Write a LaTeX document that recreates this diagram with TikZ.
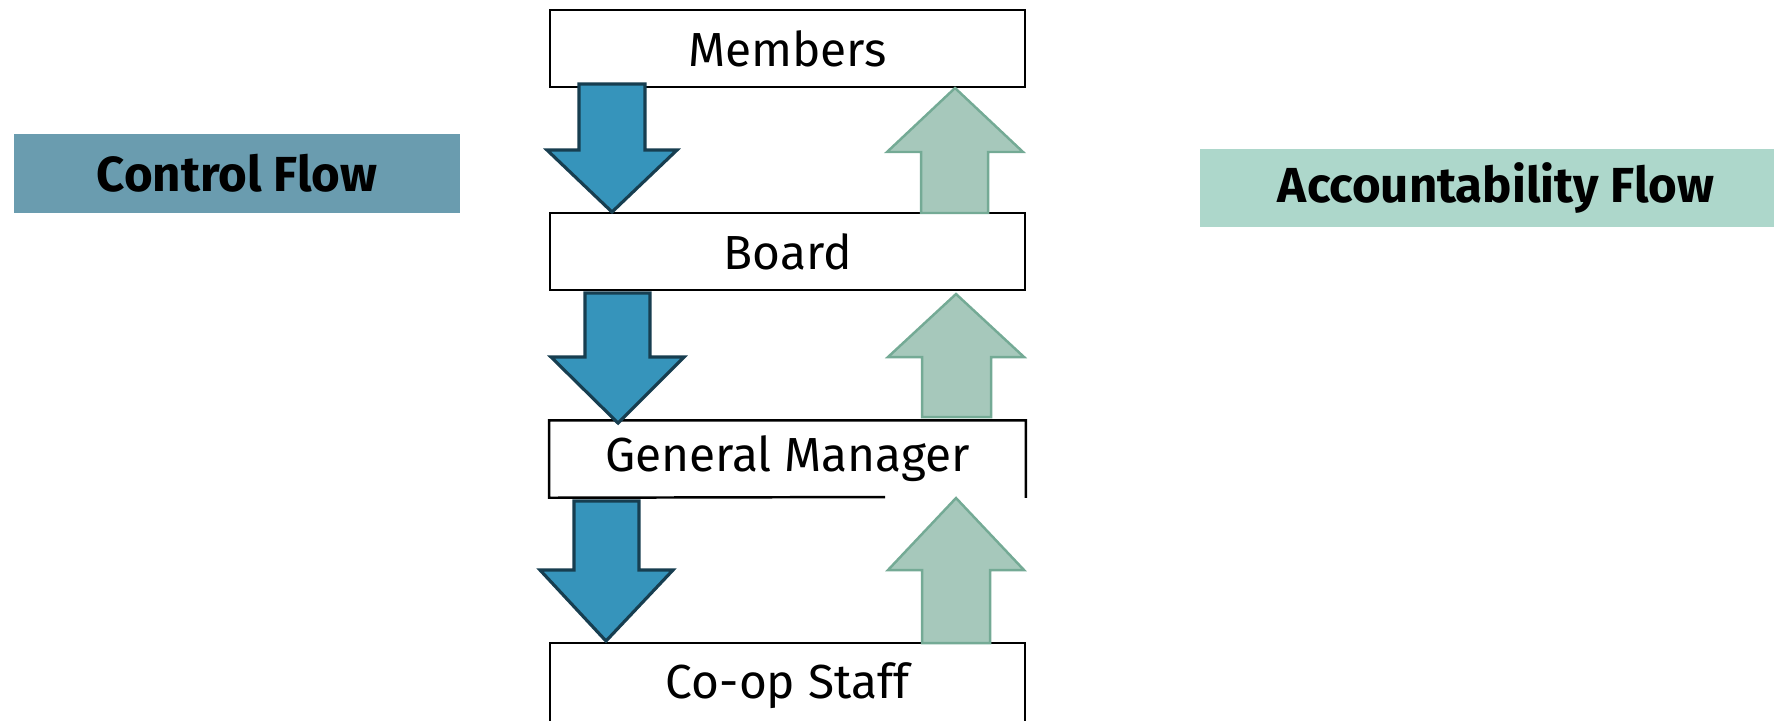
\documentclass[tikz,border=0pt]{standalone}
\usepackage{fontspec}
\setmainfont{Fira Sans}
\begin{document}
\begin{tikzpicture}[x=0.01cm,y=-0.01cm,
  level/.style={draw=none,fill=white,minimum width=4.75cm,inner sep=0pt,font=\fontsize{13.6}{16}\selectfont},
  lvlborder/.style={line width=0.7pt,draw=black},
  flowlabel/.style={inner sep=0pt,font=\fontsize{14}{16}\selectfont\bfseries},
  downarrow/.style={fill=ctrlfill,draw=ctrlline,line width=0.9pt,line join=miter},
  uparrow/.style={fill=accfill,draw=accline,line width=0.7pt,line join=miter}]
\definecolor{ctrlfill}{HTML}{3694BB}
\definecolor{ctrlline}{HTML}{173E50}
\definecolor{accfill}{HTML}{A6C8BB}
\definecolor{accline}{HTML}{74AA95}
\definecolor{ctrlbox}{HTML}{6A9CAF}
\definecolor{accbox}{HTML}{ADD7CB}
\useasboundingbox (0,0) rectangle (1774,720);
\clip (0,0) rectangle (1774,720);

% side labels
\fill[ctrlbox] (14,134) rectangle (460,213);
\node[flowlabel] (ctrl) at (237,173.5) {Control Flow};
\fill[accbox] (1200,149) rectangle (1800,227);
\node[flowlabel] (acc) at (1496,188) {Accountability Flow};

% hierarchy boxes
\node[level,lvlborder,minimum height=0.77cm] (members) at (787.5,48.5) {Members};
\node[level,lvlborder,minimum height=0.77cm] (board) at (787.5,251.5) {Board};
\node[level,minimum height=0.76cm] (gm) at (787.5,459) {General Manager};
\draw[lvlborder] (885,497) -- (gm.south west) -- (gm.north west) -- (gm.north east) -- (gm.south east);
\node[level,lvlborder,minimum height=0.86cm] (staff) at (787.5,686) {Co-op Staff};

% control flow arrows (downwards)
\draw[downarrow] (579,84) -- (645,84) -- (645,150) -- (677,150) -- (612,212) -- (547,150) -- (579,150) -- cycle;
\draw[downarrow] (585,293) -- (650,293) -- (650,357) -- (684,357) -- (618,423) -- (551,357) -- (585,357) -- cycle;
\draw[downarrow] (574,501) -- (639,501) -- (639,570) -- (673,570) -- (606,641) -- (540,570) -- (574,570) -- cycle;

% accountability arrows (upwards)
\draw[uparrow] (921,213) -- (988,213) -- (988,152) -- (1023,152) -- (955,88) -- (887,152) -- (921,152) -- cycle;
\draw[uparrow] (922,417) -- (991,417) -- (991,357) -- (1024,357) -- (956,294) -- (888,357) -- (922,357) -- cycle;
\draw[uparrow] (922,643) -- (990,643) -- (990,570) -- (1024,570) -- (956,498) -- (888,570) -- (922,570) -- cycle;
\end{tikzpicture}
\end{document}
